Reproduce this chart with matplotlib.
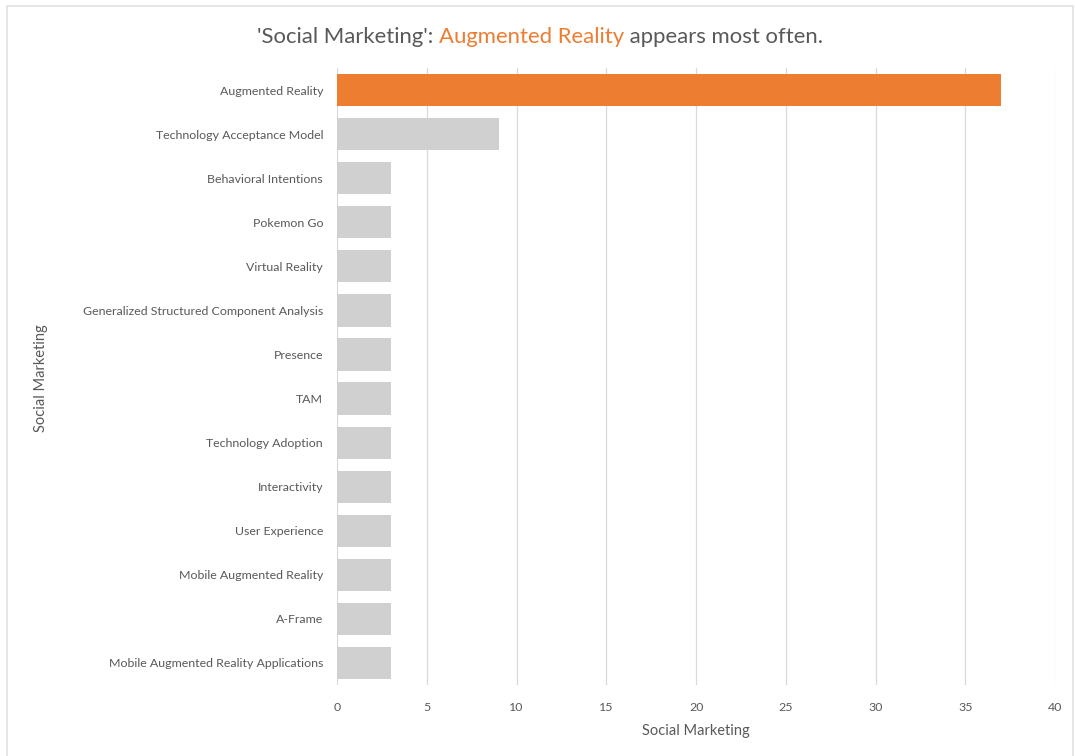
import matplotlib.pyplot as plt
from matplotlib.patches import Rectangle

# DATA
categories = [
    "Augmented Reality",
    "Technology Acceptance Model",
    "Behavioral Intentions",
    "Pokemon Go",
    "Virtual Reality",
    "Generalized Structured Component Analysis",
    "Presence",
    "TAM",
    "Technology Adoption",
    "Interactivity",
    "User Experience",
    "Mobile Augmented Reality",
    "A-Frame",
    "Mobile Augmented Reality Applications",
]
counts = [37, 9, 3, 3, 3, 3, 3, 3, 3, 3, 3, 3, 3, 3]
x_ticks = [0, 5, 10, 15, 20, 25, 30, 35, 40]

HIGHLIGHT = "#ED7D31"
GREY_BAR = "#D0D0D0"
TEXT = "#595959"

plt.rcParams['font.family'] = ['Lato', 'DejaVu Sans']

fig = plt.figure(figsize=(10.75, 7.56), dpi=100)
ax = fig.add_axes([0.3135, 0.0939, 0.668, 0.8161])

y_pos = list(range(len(categories)))
colors = [HIGHLIGHT if i == 0 else GREY_BAR for i in range(len(categories))]
ax.barh(y_pos, counts, height=0.73, color=colors, zorder=3)

ax.set_ylim(len(categories) - 0.5, -0.5)
ax.set_xlim(0, 40)
ax.set_xticks(x_ticks)
ax.set_yticks(y_pos)
ax.set_yticklabels(categories)
ax.tick_params(axis='both', length=0, labelsize=8.9, colors=TEXT)
ax.tick_params(axis='y', pad=10)
ax.tick_params(axis='x', pad=12)
ax.grid(axis='x', color='#D9D9D9', linewidth=0.9, zorder=0)
for s in ax.spines.values():
    s.set_visible(False)

ax.set_xlabel("Social Marketing", fontsize=10.5, color=TEXT, labelpad=8)
fig.text(0.038, 0.5, "Social Marketing", rotation=90, fontsize=10.5,
         color=TEXT, ha='center', va='center')

# multi-colour title
parts = [("'Social Marketing': ", TEXT), ("Augmented Reality", HIGHLIGHT),
         (" appears most often.", TEXT)]
fig.canvas.draw()
renderer = fig.canvas.get_renderer()
texts = []
widths = []
for s, c in parts:
    t = fig.text(0, 0, s, fontsize=15.9, color=c, va='center')
    bb = t.get_window_extent(renderer)
    texts.append(t)
    widths.append(bb.width)
total = sum(widths)
x0 = (540 - total / 2)
for t, w in zip(texts, widths):
    t.set_position((x0 / 1075, 1 - 37 / 756))
    x0 += w

# chart border
fig.patches.append(Rectangle((7 / 1075, -0.01), 1066 / 1075, 1.01 - 6 / 756,
                             transform=fig.transFigure, fill=False,
                             edgecolor='#E0E0E0', linewidth=1.2))

fig.savefig("out.png", dpi=100)
